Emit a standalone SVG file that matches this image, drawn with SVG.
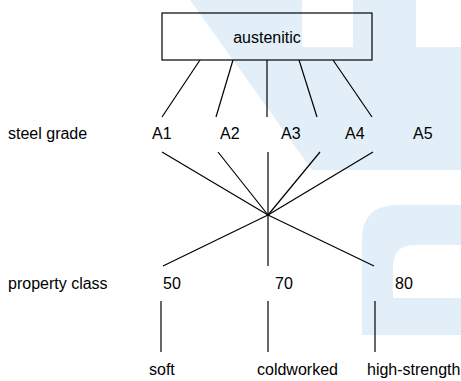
<svg xmlns="http://www.w3.org/2000/svg" width="461" height="381" viewBox="0 0 461 381">
<style>
text{font-family:"Liberation Sans",Arial,sans-serif;font-size:16px;fill:#000}
.c line{stroke:#000;stroke-width:1.2}
.bg{fill:#e3eff8}
</style>
<rect width="461" height="381" fill="#fff"/>
<g id="watermark">
<path class="bg" d="M190,0 L302,0 L302,47 L353,47 L353,0 L416,0 L416,47 L461,47 L461,170 L312,170 Z"/>
<path class="bg" d="M362,335 L362,240 Q362,205 397,205 L461,205 L461,245 L415,245 Q393,245 393,267 L393,298 L461,298 L461,335 Z"/>
</g>
<g id="austenitic">
<rect x="162" y="13" width="210" height="47" fill="none" stroke="#000" stroke-width="1.2"/>
<text x="267" y="43" text-anchor="middle">austenitic</text>
</g>
<g id="row-labels">
<text x="8" y="139">steel grade</text>
<text x="8" y="289">property class</text>
</g>
<g id="A1"><text x="152" y="139">A1</text></g>
<g id="A2"><text x="220" y="139">A2</text></g>
<g id="A3"><text x="281" y="139">A3</text></g>
<g id="A4"><text x="345" y="139">A4</text></g>
<g id="A5"><text x="413" y="139">A5</text></g>
<g id="p50"><text x="163" y="289">50</text></g>
<g id="p70"><text x="275" y="289">70</text></g>
<g id="p80"><text x="395" y="289">80</text></g>
<g id="soft"><text x="149" y="375">soft</text></g>
<g id="coldworked"><text x="257" y="375">coldworked</text></g>
<g id="high-strength"><text x="367" y="375">high-strength</text></g>
<g class="c" id="connectors">
<line x1="200" y1="60" x2="162" y2="117"/>
<line x1="233" y1="60" x2="216" y2="117"/>
<line x1="267" y1="60" x2="267" y2="117"/>
<line x1="299" y1="60" x2="317" y2="117"/>
<line x1="333" y1="60" x2="372" y2="117"/>
<line x1="162" y1="152" x2="268" y2="215"/>
<line x1="218" y1="152" x2="268" y2="215"/>
<line x1="268" y1="152" x2="268" y2="215"/>
<line x1="320" y1="152" x2="268" y2="215"/>
<line x1="373" y1="152" x2="268" y2="215"/>
<line x1="268" y1="215" x2="163" y2="266"/>
<line x1="268" y1="215" x2="268" y2="266"/>
<line x1="268" y1="215" x2="374" y2="266"/>
<line x1="161" y1="301" x2="161" y2="352"/>
<line x1="268" y1="301" x2="268" y2="352"/>
<line x1="375" y1="301" x2="375" y2="352"/>
</g>
</svg>
